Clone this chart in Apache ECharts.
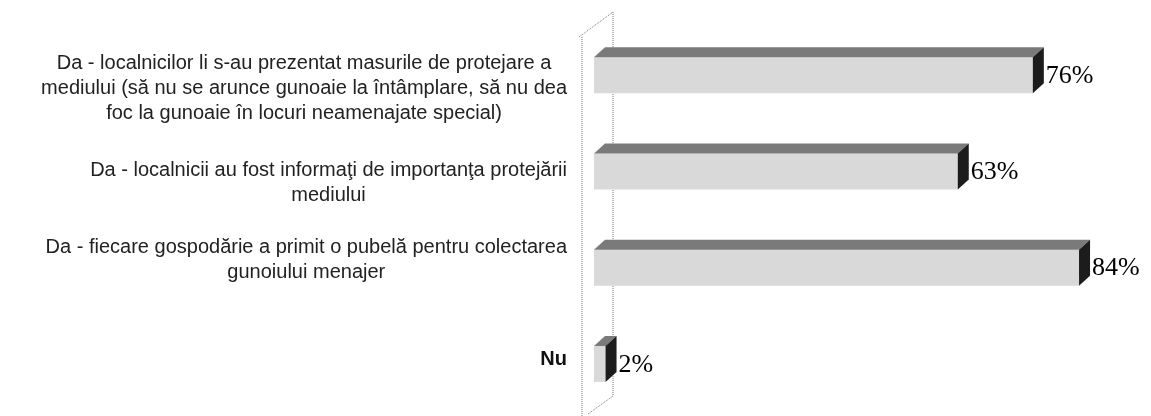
<!DOCTYPE html>
<html>
<head>
<meta charset="utf-8">
<script src="https://cdn.jsdelivr.net/npm/echarts@6/dist/echarts.min.js"></script>
<style>
  html, body { margin: 0; padding: 0; background: #fff; }
  #chart { width: 1151px; height: 416px; }
</style>
</head>
<body>
<div id="chart"></div>
<script>
// date
const categories = [
  'Da - localnicilor li s-au prezentat masurile de protejare a\nmediului (să nu se arunce gunoaie la întâmplare, să nu dea\nfoc la gunoaie în locuri neamenajate special)',
  'Da - localnicii au fost informaţi de importanţa protejării\nmediului',
  'Da - fiecare gospodărie a primit o pubelă pentru colectarea\ngunoiului menajer',
  'Nu'
]
const values = [76, 63, 84, 2]
// label vertical shift vs. bar centre (px)
const labelShift = [13, 12, -8, -4]

const GRID_LEFT = 594
const GRID_TOP = 27
const GRID_BOTTOM = 4
const HALF = 18 // half height of bar face
const DX = 11 // 3d depth
const DY = 10

const chart = echarts.init(document.getElementById('chart'))

function renderBar(params, api) {
  const v = api.value(0)
  const c = api.value(1)
  const p0 = api.coord([0, c])
  const p1 = api.coord([v, c])
  const x0 = p0[0]
  const x1 = p1[0]
  const yc = p0[1]
  const top = yc - HALF
  const bot = yc + HALF
  return {
    type: 'group',
    children: [
      {
        type: 'rect',
        shape: { x: x0, y: top, width: x1 - x0, height: bot - top },
        style: { fill: '#d9d9d9' }
      },
      {
        type: 'polygon',
        shape: { points: [[x0, top], [x1, top], [x1 + DX, top - DY], [x0 + DX, top - DY]] },
        style: { fill: '#7a7a7a' }
      },
      {
        type: 'polygon',
        shape: { points: [[x1, top], [x1 + DX, top - DY], [x1 + DX, bot - DY], [x1, bot]] },
        style: { fill: '#1c1c1c' }
      },
      {
        type: 'text',
        x: x1 + DX + 2,
        y: yc + 1,
        style: {
          text: v + '%',
          fill: '#000',
          font: '26px "Liberation Serif", "Times New Roman", serif',
          verticalAlign: 'middle',
          align: 'left'
        }
      }
    ]
  }
}

const options = {
  animation: false,
  grid: {
    left: GRID_LEFT,
    right: 20,
    top: GRID_TOP,
    bottom: GRID_BOTTOM
  },
  xAxis: {
    type: 'value',
    min: 0,
    max: 93,
    show: false
  },
  yAxis: {
    type: 'category',
    inverse: true,
    data: categories.map((c, i) => ({
      value: c,
      textStyle: {
        padding: labelShift[i] > 0 ? [labelShift[i] * 2, 0, 0, 0] : [0, 0, -labelShift[i] * 2, 0]
      }
    })),
    axisLine: { show: false },
    axisTick: { show: false },
    splitLine: { show: false },
    axisLabel: {
      margin: 27,
      formatter(val) {
        const tag = val === 'Nu' ? 'b' : 'c'
        return val.split('\n').map(l => '{' + tag + '|' + l + '}').join('\n')
      },
      rich: {
        c: {
          align: 'center',
          fontSize: 20,
          lineHeight: 25,
          color: '#222',
          fontFamily: 'Arial, "Liberation Sans", sans-serif'
        },
        b: {
          align: 'center',
          fontSize: 20,
          fontWeight: 'bold',
          lineHeight: 25,
          color: '#111',
          fontFamily: 'Arial, "Liberation Sans", sans-serif'
        }
      }
    }
  },
  graphic: [
    // 3d wall behind the bars
    {
      type: 'group',
      z: -10,
      children: [
        { type: 'line', shape: { x1: GRID_LEFT - 12, y1: 37, x2: GRID_LEFT - 12, y2: 416 }, style: { stroke: '#777', lineWidth: 1, lineDash: [1, 1] } },
        { type: 'line', shape: { x1: GRID_LEFT + 19, y1: 12, x2: GRID_LEFT + 19, y2: 396 }, style: { stroke: '#777', lineWidth: 1, lineDash: [1, 1] } },
        { type: 'line', shape: { x1: GRID_LEFT - 15, y1: 37, x2: GRID_LEFT + 19, y2: 12 }, style: { stroke: '#777', lineWidth: 1, lineDash: [1, 1] } },
        { type: 'line', shape: { x1: GRID_LEFT - 6, y1: 414, x2: GRID_LEFT + 19, y2: 396 }, style: { stroke: '#777', lineWidth: 1, lineDash: [1, 1] } }
      ]
    }
  ],
  series: [
    {
      type: 'custom',
      renderItem: renderBar,
      clip: false,
      encode: { x: 0, y: 1 },
      data: values.map((v, i) => [v, i])
    }
  ]
}
chart.setOption(options)
</script>
</body>
</html>
